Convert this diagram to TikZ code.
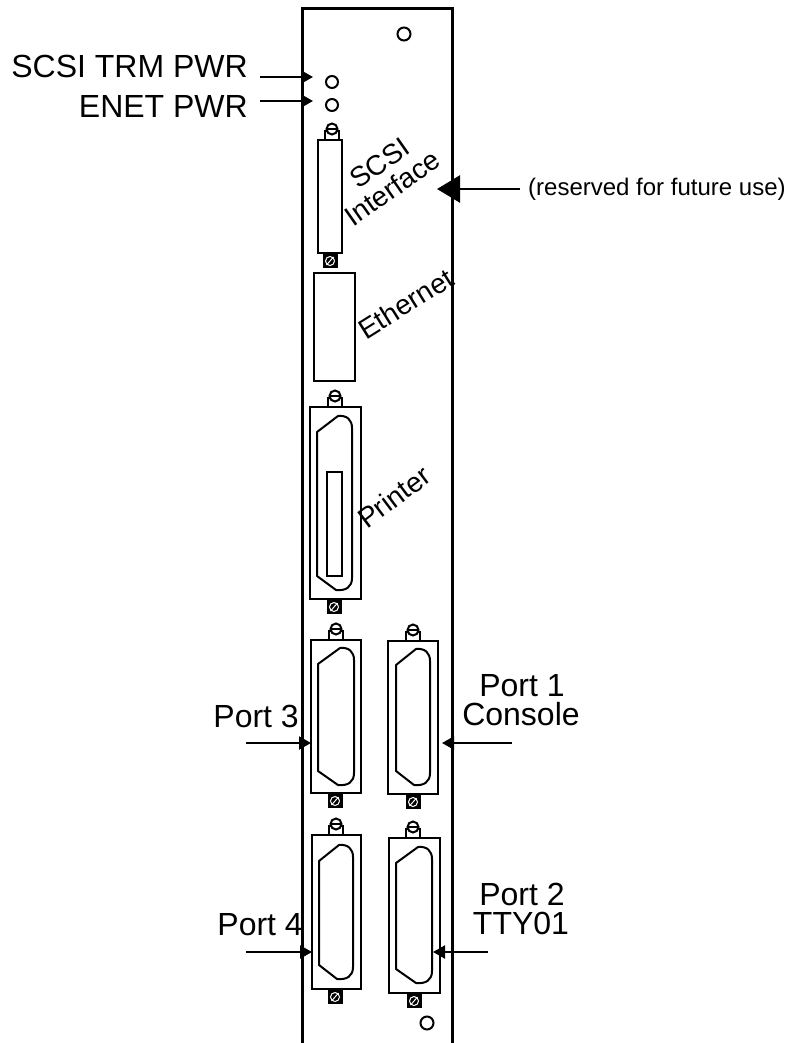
\documentclass[tikz,border=0pt]{standalone}
\usepackage{fontspec}
\setmainfont{Liberation Sans}
\usetikzlibrary{arrows.meta}
\newcommand\topscrew[2]{%
  \draw[conn, fill=white] (#1-7,#2-9) rectangle (#1+7,#2);
  \draw[screwline, fill=white] (#1,#2-11) circle[radius=5.5pt];
  \draw[screwline] (#1-5.5,#2-11) -- (#1+5.5,#2-11);}
\newcommand\botscrew[2]{%
  \fill (#1-7.5,#2) rectangle (#1+7.5,#2+14);
  \draw[white, line width=1pt] (#1,#2+7) circle[radius=4.5pt];
  \draw[white, line width=1pt] (#1-3.5,#2+11) -- (#1+3.5,#2+3);}
\newcommand\dconn[4]{%
  \draw[dline] (#1,#2+16) -- (#3-14,#2) .. controls (#3-5,#2-1) and (#3,#2+4) .. (#3,#2+12)
    -- (#3,#4-12) .. controls (#3,#4-3) and (#3-6,#4+1) .. (#3-16,#4) -- (#1,#4-14) -- cycle;}
\begin{document}
\begin{tikzpicture}[x=1pt,y=-1pt,
  panel/.style={line width=3pt},
  conn/.style={line width=2.6pt},
  screwline/.style={line width=2pt},
  dline/.style={line width=2pt, line join=round},
  led/.style={line width=2pt},
  arr/.style={line width=2pt,-{Triangle[length=12pt,width=13pt]}},
  bigarr/.style={line width=2.5pt,-{Triangle[length=23pt,width=27pt]}},
  lbl/.style={inner sep=0pt,font=\fontsize{32}{30}\selectfont},
  rlbl/.style={inner sep=0pt,font=\fontsize{28}{29}\selectfont,anchor=base},
  smalllbl/.style={inner sep=0pt,font=\fontsize{24}{24}\selectfont}]
\useasboundingbox (0,0) rectangle (789,1043);
% panel
\draw[panel] (302,1046) -- (302,9) -- (452,9) -- (452,1046);
% holes and LEDs
\draw[led] (404,34) circle[radius=6.5pt];
\draw[led] (332,82) circle[radius=6pt];
\draw[led] (332,105) circle[radius=6pt];
\draw[led] (427,1023) circle[radius=6.5pt];
% SCSI connector
\topscrew{332}{140}
\draw[conn] (318,140) rectangle (342,253);
\botscrew{330}{254}
% Ethernet
\draw[conn] (314,273) rectangle (355,381);
% Printer
\topscrew{335}{407}
\draw[conn] (310,407) rectangle (361,599);
\botscrew{334}{600}
\dconn{317}{416}{352}{590}
\draw[conn] (327,472) rectangle (342,576);
% Port 3
\topscrew{336}{640}
\draw[conn] (311,640) rectangle (361,793);
\botscrew{335}{794}
\dconn{318}{648}{354}{785}
% Port 1
\topscrew{413}{641}
\draw[conn] (388,641) rectangle (438,794);
\botscrew{413}{795}
\dconn{396}{649}{430}{785}
% Port 4
\topscrew{336}{835}
\draw[conn] (312,835) rectangle (361,989);
\botscrew{335}{990}
\dconn{319}{845}{353}{979}
% Port 2
\topscrew{413}{838}
\draw[conn] (389,838) rectangle (440,993);
\botscrew{414}{994}
\dconn{396}{847}{432}{983}
% labels
\node[lbl, anchor=base east] (scsitrm) at (248,78) {SCSI TRM PWR};
\node[lbl, anchor=base east] (enetpwr) at (248,118) {ENET PWR};
\node[rlbl, rotate=35] (scsi) at (385,171) {SCSI};
\node[rlbl, rotate=35] (intf) at (398,196) {Interface};
\node[rlbl, rotate=32] (eth) at (411,312) {Ethernet};
\node[rlbl, rotate=37] (prn) at (400,505) {Printer};
\node[smalllbl, anchor=west] (res) at (528,189) {(reserved for future use)};
\node[lbl, anchor=base east] (p3) at (299,727) {Port 3};
\node[lbl, anchor=base east] (p4) at (303,935) {Port 4};
\node[lbl, anchor=base] (p1) at (522,696) {Port 1};
\node[lbl, anchor=base] (cons) at (521,725) {Console};
\node[lbl, anchor=base] (p2) at (522,905) {Port 2};
\node[lbl, anchor=base] (tty) at (521,934) {TTY01};
% arrows
\coordinate (a1s) at (260,77);  \coordinate (a1e) at (313,77);
\coordinate (a2s) at (260,101); \coordinate (a2e) at (313,101);
\coordinate (a3s) at (520,189); \coordinate (a3e) at (437,189);
\coordinate (a4s) at (246,743); \coordinate (a4e) at (311,743);
\coordinate (a5s) at (512,743); \coordinate (a5e) at (442,743);
\coordinate (a6s) at (246,952); \coordinate (a6e) at (312,952);
\coordinate (a7s) at (488,952); \coordinate (a7e) at (433,952);
\draw[arr] (a1s) -- (a1e);
\draw[arr] (a2s) -- (a2e);
\draw[bigarr] (a3s) -- (a3e);
\draw[arr] (a4s) -- (a4e);
\draw[arr] (a5s) -- (a5e);
\draw[arr] (a6s) -- (a6e);
\draw[arr] (a7s) -- (a7e);
\end{tikzpicture}
\end{document}
